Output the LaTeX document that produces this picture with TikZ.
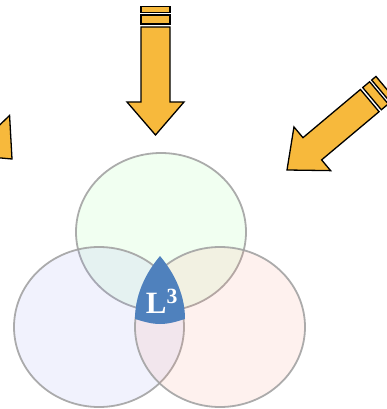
\documentclass[tikz,border=0pt]{standalone}
\usepackage{fontspec}
\setmainfont{Liberation Serif}
\definecolor{arrowfill}{HTML}{F7B93C}
\definecolor{ellstroke}{HTML}{A3A3A3}
\definecolor{dropblue}{HTML}{4F81BD}
\tikzset{
  arrowbody/.style={fill=arrowfill, draw=black, line width=1.3pt, line join=miter},
  venn/.style={draw=ellstroke, draw opacity=0.9, line width=1.8pt, fill opacity=0.12},
}
\newcommand{\bigarrow}{%
  \path[arrowbody] (0,0) -- (28.5,-33) -- (14.5,-33) -- (14.5,-108) -- (-14.5,-108) -- (-14.5,-33) -- (-28.5,-33) -- cycle;
  \path[arrowbody] (-14.5,-111) rectangle (14.5,-120);
  \path[arrowbody] (-14.5,-122.7) rectangle (14.5,-128.3);
}
\begin{document}
\begin{tikzpicture}[x=1pt,y=-1pt]
\useasboundingbox (0,0) rectangle (387,409);
\clip (0,0) rectangle (387,409);
% arrows
\begin{scope}[shift={(155.5,135)}]
  \bigarrow
\end{scope}
\begin{scope}[shift={(287,170)},rotate=-50]
  \bigarrow
\end{scope}
\begin{scope}[shift={(12,159)},rotate=44]
  \bigarrow
\end{scope}
% ellipses
\path[venn, fill={rgb,1:red,0.55;green,1;blue,0.55}] (161,232) ellipse [x radius=85, y radius=79] node (top) {};
\path[venn, fill={rgb,1:red,0.55;green,0.58;blue,0.95}] (99,327) ellipse [x radius=85, y radius=80] node (left) {};
\path[venn, fill={rgb,1:red,0.98;green,0.55;blue,0.45}] (220,327) ellipse [x radius=85, y radius=80] node (right) {};
% drop
\fill[dropblue] (160,256) .. controls (150,268) and (135,290) .. (135,319)
  .. controls (145,322) and (152,324) .. (160,324)
  .. controls (170,324) and (178,321) .. (185,319)
  .. controls (185,290) and (170,268) .. (160,256) -- cycle;
\node[text=white, font=\fontsize{31}{34}\selectfont\bfseries, anchor=base, inner sep=0pt] (lab) at (162,313) {L\textsuperscript{3}};
\end{tikzpicture}
\end{document}
